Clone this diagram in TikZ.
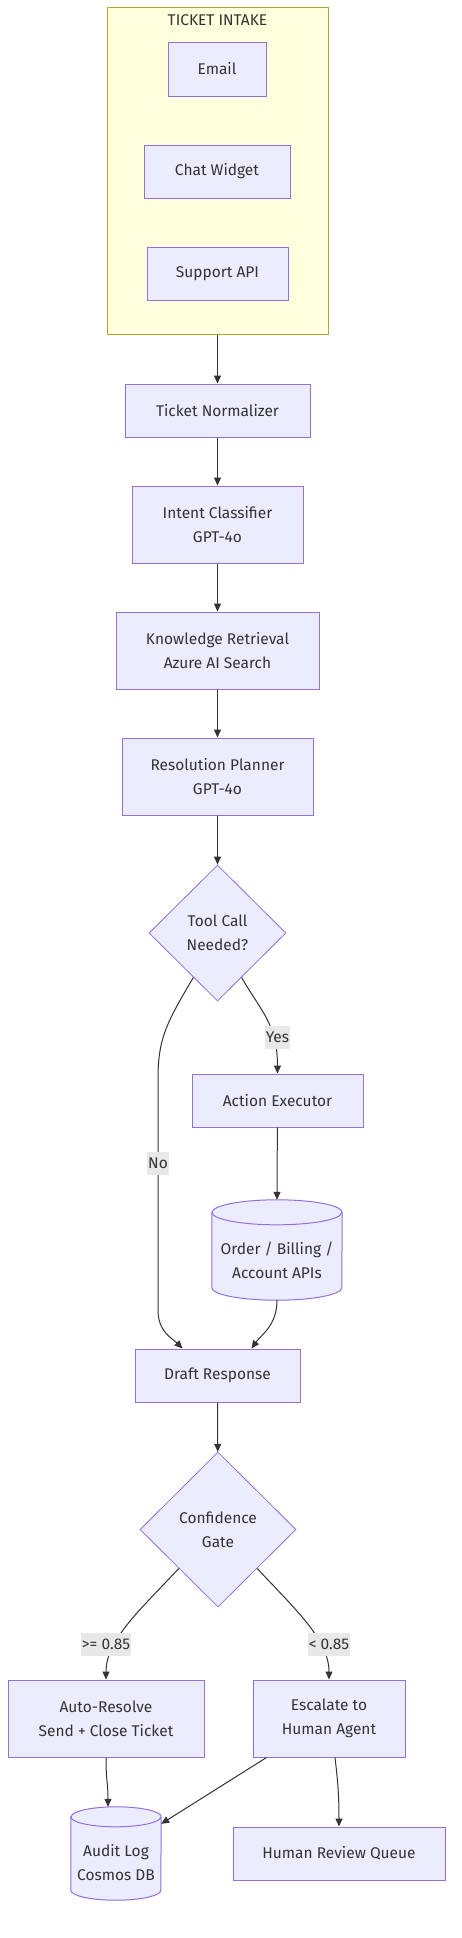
\documentclass[tikz,border=0pt]{standalone}
\usepackage{fontspec}
\setmainfont{Fira Sans}
\usetikzlibrary{shapes.geometric,arrows.meta,calc}
\definecolor{nodefill}{HTML}{ECECFF}
\definecolor{nodeline}{HTML}{9370DB}
\definecolor{clusterfill}{HTML}{FFFFDE}
\definecolor{clusterline}{HTML}{AAAA33}
\definecolor{txt}{HTML}{333333}
\definecolor{lblbg}{HTML}{E8E8E8}
\tikzset{
  box/.style={rectangle, draw=nodeline, fill=nodefill, line width=1pt, inner sep=0pt, align=center, text=txt},
  dia/.style={diamond, aspect=1, draw=nodeline, fill=nodefill, line width=0.8pt, inner sep=0pt, align=center, text=txt},
  cylbox/.style={rectangle, inner sep=0pt},
  cylshape/.style={draw=nodeline, fill=nodefill, line width=1pt},
  plaintext/.style={inner sep=0pt, align=center, text=txt},
  cluster/.style={rectangle, draw=clusterline, fill=clusterfill, line width=1pt, inner sep=0pt},
  arr/.style={draw=txt, line width=1pt, -{Triangle[length=8pt,width=7pt]}},
  lbl/.style={fill=lblbg, inner xsep=1pt, inner ysep=0pt, minimum height=23pt, text=txt},
}
\begin{document}
\begin{tikzpicture}[x=1pt,y=1pt,font=\fontsize{15.5}{24}\selectfont]
\useasboundingbox (0,0) rectangle (461,-1938);
\fill[white] (0,0) rectangle (461,-1938);
% cluster
\node[cluster, minimum width=221, minimum height=327] (intake) at (217.5,-170.5) {};
\node[plaintext] (intaketitle) at (217.5,-20) {TICKET INTAKE};
\node[box, minimum width=98, minimum height=54] (email) at (217,-69) {Email};
\node[box, minimum width=146, minimum height=53] (chat) at (217,-171.5) {Chat Widget};
\node[box, minimum width=141, minimum height=53] (api) at (217.5,-273.5) {Support API};
% main chain
\node[box, minimum width=185, minimum height=53] (norm) at (217.5,-410.5) {Ticket Normalizer};
\node[box, minimum width=171, minimum height=77] (intent) at (217.5,-524.5) {Intent Classifier\\GPT-4o};
\node[box, minimum width=203, minimum height=77] (know) at (217.5,-650.5) {Knowledge Retrieval\\Azure AI Search};
\node[box, minimum width=191, minimum height=77] (plan) at (217.5,-776.5) {Resolution Planner\\GPT-4o};
\node[dia, minimum width=137, minimum height=136] (tool) at (217.5,-933) {Tool Call\\Needed?};
\node[box, minimum width=171, minimum height=53] (exec) at (277.5,-1100.5) {Action Executor};
% cylinder: order apis
\node[cylbox, minimum width=130, minimum height=100] (ord) at (277,-1250) {};
\path[cylshape] ($(ord.north west)+(0,-12.5)$) -- ($(ord.south west)+(0,12.5)$)
  arc[start angle=180, end angle=360, x radius=65, y radius=12.5]
  -- ($(ord.north east)+(0,-12.5)$)
  arc[start angle=0, end angle=180, x radius=65, y radius=12.5] -- cycle;
\draw[draw=nodeline, line width=1pt] ($(ord.north west)+(0,-12.5)$) arc[start angle=180, end angle=360, x radius=65, y radius=12.5];
\node[plaintext] (ordtxt) at (277,-1260) {Order / Billing /\\Account APIs};
\node[box, minimum width=165, minimum height=53] (draft) at (217.5,-1375.5) {Draft Response};
\node[dia, minimum width=156, minimum height=155] (conf) at (218,-1529.5) {Confidence\\Gate};
\node[box, minimum width=196, minimum height=77] (auto) at (106,-1718.5) {Auto-Resolve\\Send + Close Ticket};
\node[box, minimum width=152, minimum height=77] (esc) at (329,-1718.5) {Escalate to\\Human Agent};
% cylinder: audit log
\node[cylbox, minimum width=90, minimum height=93] (audit) at (116,-1853.5) {};
\path[cylshape] ($(audit.north west)+(0,-10)$) -- ($(audit.south west)+(0,10)$)
  arc[start angle=180, end angle=360, x radius=45, y radius=10]
  -- ($(audit.north east)+(0,-10)$)
  arc[start angle=0, end angle=180, x radius=45, y radius=10] -- cycle;
\draw[draw=nodeline, line width=1pt] ($(audit.north west)+(0,-10)$) arc[start angle=180, end angle=360, x radius=45, y radius=10];
\node[plaintext] (audittxt) at (116,-1863) {Audit Log\\Cosmos DB};
\node[box, minimum width=212, minimum height=53] (hrq) at (339,-1853.5) {Human Review Queue};
% edges
\draw[arr] (intake.south) -- (norm.north);
\draw[arr] (norm) -- (intent);
\draw[arr] (intent) -- (know);
\draw[arr] (know) -- (plan);
\draw[arr] (plan) -- (tool);
\draw[arr] ($(tool.south)!0.35!(tool.east)$) .. controls +(18,-32) and +(0,50) .. (exec.north);
\node[lbl] (yeslbl) at ($(exec.north)+(0,36)$) {Yes};
\draw[arr] ($(tool.south)!0.35!(tool.west)$) .. controls (165,-1025) and (158,-1040) .. (158,-1080)
  -- (158,-1310) .. controls (158,-1332) and (172,-1338) .. ($(draft.north west)+(48,0)$);
\node[lbl] (nolbl) at (158,-1163) {No};
\draw[arr] (exec) -- (ord.north);
\draw[arr] (ord.south) .. controls +(0,-25) and +(10,14) .. ($(draft.north west)+(117,0)$);
\draw[arr] (draft) -- (conf);
\draw[arr] (conf.south west) .. controls (140,-1610) and (106,-1640) .. (auto.north);
\node[lbl] (gelbl) at (106,-1644.5) {>= 0.85};
\draw[arr] (conf.south east) .. controls (296,-1610) and (329,-1640) .. (esc.north);
\node[lbl] (ltlbl) at (329,-1644.5) {< 0.85};
\draw[arr] (auto.south) .. controls +(0,-25) and +(0,25) .. ($(audit.north)+(-8,0)$);
\draw[arr] ($(esc.south west)+(14,0)$) -- ($(audit.north east)+(0,-17)$);
\draw[arr] ($(esc.south)+(6,0)$) .. controls +(3,-25) and +(0,30) .. (hrq.north);
\end{tikzpicture}
\end{document}
